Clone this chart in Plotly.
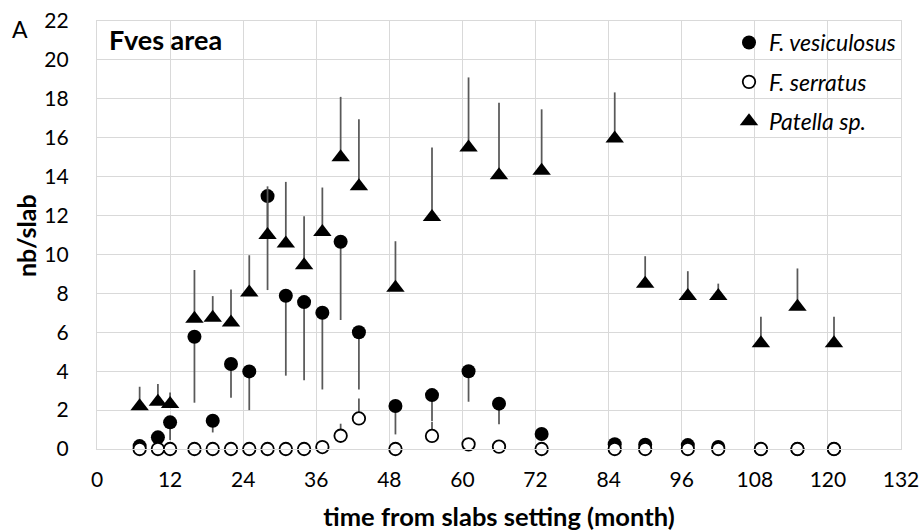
import plotly.graph_objects as go

# ---- data ----
months = [7, 10, 12, 16, 19, 22, 25, 28, 31, 34, 37, 40, 43, 49, 55, 61, 66, 73,
          85, 90, 97, 102, 109, 115, 121]

fves_mean = [0.15, 0.6, 1.37, 5.77, 1.45, 4.37, 3.99, 13.0, 7.88, 7.55, 7.0, 10.65, 6.0,
             2.21, 2.77, 4.0, 2.33, 0.77, 0.25, 0.22, 0.2, 0.1, 0.0, 0.0, 0.0]
fves_err_minus = [0.1, 0.3, 0.91, 3.39, 0.6, 1.73, 1.99, 4.83, 4.11, 4.01, 3.94, 4.02, 2.94,
                  1.46, 1.33, 1.57, 1.06, 0.3, 0.2, 0.2, 0.15, 0.1, 0.0, 0.0, 0.0]

fser_mean = [0, 0, 0, 0, 0, 0, 0, 0, 0, 0, 0.1, 0.68, 1.57,
             0, 0.67, 0.24, 0.12, 0, 0, 0, 0, 0, 0, 0, 0]
fser_err_plus = [0, 0, 0, 0, 0, 0, 0, 0, 0, 0, 0.1, 0.62, 1.03,
                 0, 0.73, 0.3, 0.2, 0, 0, 0, 0, 0, 0, 0, 0]

pat_mean = [2.2, 2.43, 2.31, 6.7, 6.75, 6.5, 8.05, 11.0, 10.56, 9.45, 11.16, 15.0, 13.5,
            8.29, 11.93, 15.5, 14.07, 14.3, 15.96, 8.5, 7.86, 7.86, 5.43, 7.31, 5.43]
pat_err_plus = [1.0, 0.91, 0.59, 2.5, 1.11, 1.7, 1.91, 2.5, 3.17, 2.52, 2.28, 3.1, 3.45,
                2.39, 3.57, 3.6, 3.73, 3.16, 2.37, 1.41, 1.28, 0.64, 1.37, 1.97, 1.37]

series_names = ["F. vesiculosus", "F. serratus", "Patella sp."]
x_ticks = list(range(0, 133, 12))
y_ticks = list(range(0, 23, 2))

FONT = "Lato"
ERR_COLOR = "#595959"
GRID = "#d9d9d9"

W, H = 922, 531
ML, MR, MT, MB = 97, 21, 21, 82
PW, PH = W - ML - MR, H - MT - MB


def px_to_paper(xp, yp):
    """page pixel -> paper fraction"""
    return (xp - ML) / PW, (H - MB - yp) / PH


fig = go.Figure()

fig.add_trace(go.Scatter(
    x=months, y=fves_mean, mode="markers", name="<i>" + series_names[0] + "</i>", legendgroup="a",
    marker=dict(symbol="circle", size=14, color="black", line=dict(width=0)),
    error_y=dict(type="data", symmetric=False, array=[0] * len(months),
                 arrayminus=fves_err_minus, color=ERR_COLOR, thickness=1.75, width=0),
    cliponaxis=False,
))
fig.add_trace(go.Scatter(
    x=months, y=fser_mean, mode="markers", name="<i>" + series_names[1] + "</i>", legendgroup="b",
    marker=dict(symbol="circle", size=12.5, color="white", line=dict(width=1.8, color="black")),
    error_y=dict(type="data", symmetric=False, array=fser_err_plus,
                 arrayminus=[0] * len(months), color=ERR_COLOR, thickness=1.75, width=0),
    cliponaxis=False,
))
fig.add_trace(go.Scatter(
    x=months, y=pat_mean, mode="markers", name="<i>" + series_names[2] + "</i>", legendgroup="c",
    marker=dict(symbol="triangle-up", size=16, color="black", line=dict(width=0)),
    error_y=dict(type="data", symmetric=False, array=pat_err_plus,
                 arrayminus=[0] * len(months), color=ERR_COLOR, thickness=1.75, width=0),
    cliponaxis=False,
))

axis_common = dict(
    automargin=False,
    showgrid=True, gridcolor=GRID, gridwidth=1.3,
    zeroline=False, showline=True, linecolor=GRID, linewidth=1.3, mirror=True,
    ticks="", tickfont=dict(family=FONT, size=21, color="black"),
)

fves_x, fves_y = px_to_paper(107, 40)
a_x, a_y = px_to_paper(19.5, 28.5)
yt_x, yt_y = px_to_paper(26, 236)

fig.update_layout(
    width=W, height=H,
    margin=dict(l=ML, r=MR, t=MT, b=MB, autoexpand=False),
    paper_bgcolor="white", plot_bgcolor="white",
    font=dict(family=FONT, color="black"),
    xaxis=dict(range=[0, 132], tickvals=x_ticks, ticktext=[str(v) for v in x_ticks],
               ticklabelstandoff=12,
               title=dict(text="<b>time from slabs setting (month)</b>",
                          font=dict(family=FONT, size=25.5), standoff=28),
               **axis_common),
    yaxis=dict(range=[0, 22], tickvals=y_ticks, ticktext=[str(v) for v in y_ticks],
               ticklabelstandoff=23,
               **axis_common),
    showlegend=True,
    legend=dict(x=1.0, xanchor="right", y=1.0, yanchor="top",
                bgcolor="rgba(0,0,0,0)", font=dict(family=FONT, size=23, color="black"),
                tracegroupgap=6.5, itemwidth=30),
    annotations=[
        dict(text="<b>Fves area</b>", x=fves_x, y=fves_y, xref="paper", yref="paper",
             xanchor="left", yanchor="middle", showarrow=False,
             font=dict(family=FONT, size=27, color="black")),
        dict(text="A", x=a_x, y=a_y, xref="paper", yref="paper",
             xanchor="center", yanchor="middle", showarrow=False,
             font=dict(family=FONT, size=23, color="black")),
        dict(text="<b>nb/slab</b>", x=yt_x, y=yt_y, xref="paper", yref="paper",
             xanchor="center", yanchor="middle", textangle=-90, showarrow=False,
             font=dict(family=FONT, size=25, color="black")),
    ],
)

fig.write_html("out.html", post_script="document.body.style.margin='0px';",
               config={"displayModeBar": False})
